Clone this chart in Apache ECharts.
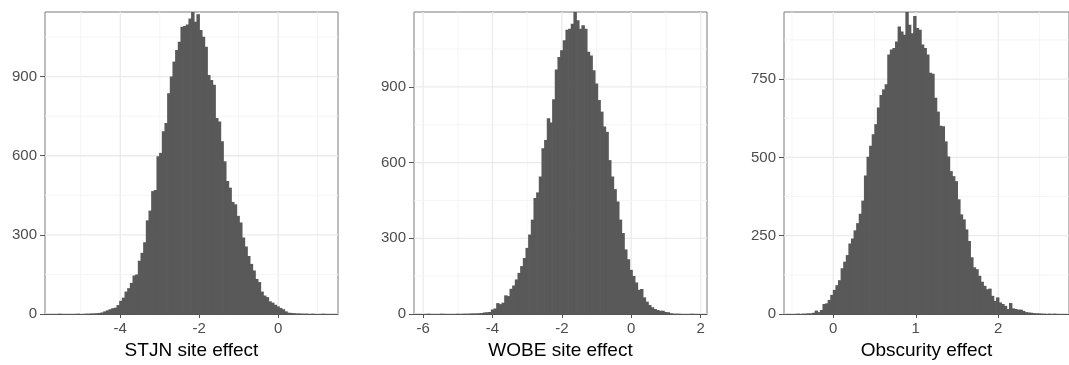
<!DOCTYPE html>
<html>
<head>
<meta charset="utf-8">
<title>Posterior site effects</title>
<script src="https://cdn.jsdelivr.net/npm/echarts@6/dist/echarts.min.js"></script>
<style>
  html, body { margin: 0; padding: 0; background: #fff; }
  #chart { width: 1069px; height: 365px; }
</style>
</head>
<body>
<div id="chart"></div>
<script>
// histogram counts, 100 bins per panel
const stjnBinStart = -5.57;
const stjnBinWidth = 0.0675;
const stjnCounts = [
  1, 0, 0, 0, 0, 0, 0, 1, 0, 0,
  1, 1, 2, 2, 3, 4, 6, 10, 14, 18,
  22, 24, 34, 50, 62, 85, 98, 118, 146, 150,
  202, 232, 272, 355, 392, 466, 470, 598, 611, 693,
  724, 837, 900, 957, 1001, 1032, 1089, 1092, 1098, 1120,
  1145, 1108, 1136, 1077, 1051, 1013, 906, 887, 869, 743,
  730, 655, 579, 504, 479, 425, 416, 372, 347, 290,
  256, 220, 190, 165, 133, 121, 85, 70, 64, 48,
  43, 35, 29, 23, 18, 10, 5, 4, 3, 2,
  2, 1, 1, 1, 0, 1, 0, 0, 0, 1
];
const stjnXTicks = [-4, -2, 0];
const stjnXMinor = [-5, -3, -1, 1];
const stjnYTicks = [0, 300, 600, 900];
const stjnYMinor = [150, 450, 750, 1050];

const wobeBinStart = -5.88;
const wobeBinWidth = 0.0768;
const wobeCounts = [
  1, 0, 0, 0, 0, 1, 0, 0, 0, 0,
  0, 1, 0, 1, 1, 1, 2, 2, 2, 3,
  4, 6, 7, 8, 18, 22, 43, 39, 45, 74,
  71, 100, 113, 137, 163, 190, 222, 262, 315, 374,
  460, 482, 545, 657, 690, 776, 759, 851, 969, 1019,
  1045, 1085, 1127, 1131, 1150, 1197, 1164, 1131, 1144, 1131,
  1039, 1025, 966, 914, 848, 802, 743, 722, 610, 545,
  495, 446, 374, 321, 256, 217, 175, 151, 125, 96,
  99, 66, 49, 36, 27, 20, 16, 13, 13, 8,
  7, 3, 1, 1, 1, 0, 0, 0, 0, 1
];
const wobeXTicks = [-6, -4, -2, 0, 2];
const wobeXMinor = [-5, -3, -1, 1];
const wobeYTicks = [0, 300, 600, 900];
const wobeYMinor = [150, 450, 750, 1050];

const obscBinStart = -0.44;
const obscBinWidth = 0.0314;
const obscCounts = [
  1, 0, 1, 1, 2, 2, 4, 11, 6, 13,
  32, 34, 45, 61, 77, 92, 108, 146, 167, 188,
  225, 241, 267, 290, 320, 362, 442, 502, 537, 574,
  606, 659, 699, 717, 733, 828, 844, 849, 870, 918,
  902, 891, 964, 923, 896, 951, 913, 907, 860, 849,
  828, 770, 767, 690, 646, 601, 599, 551, 503, 456,
  440, 424, 366, 318, 302, 270, 233, 181, 149, 143,
  122, 103, 90, 79, 81, 58, 42, 53, 37, 32,
  26, 16, 35, 18, 16, 14, 14, 10, 6, 5,
  4, 3, 2, 2, 1, 1, 0, 1, 0, 1
];
const obscXTicks = [0, 1, 2];
const obscXMinor = [-0.5, 0.5, 1.5, 2.5];
const obscYTicks = [0, 250, 500, 750];
const obscYMinor = [125, 375, 625, 875];

const panels = [
  { title: 'STJN site effect', start: stjnBinStart, width: stjnBinWidth, counts: stjnCounts,
    xTicks: stjnXTicks, xMinor: stjnXMinor, yTicks: stjnYTicks, yMinor: stjnYMinor, left: 45 },
  { title: 'WOBE site effect', start: wobeBinStart, width: wobeBinWidth, counts: wobeCounts,
    xTicks: wobeXTicks, xMinor: wobeXMinor, yTicks: wobeYTicks, yMinor: wobeYMinor, left: 414 },
  { title: 'Obscurity effect', start: obscBinStart, width: obscBinWidth, counts: obscCounts,
    xTicks: obscXTicks, xMinor: obscXMinor, yTicks: obscYTicks, yMinor: obscYMinor, left: 784 }
];

const FONT = "'Liberation Sans', Arial, sans-serif";
const BAR_COLOR = '#595959';

const chart = echarts.init(document.getElementById('chart'), null, { renderer: 'canvas' });

const grids = [];
const xAxes = [];
const yAxes = [];
const series = [];

panels.forEach((p, idx) => {
  const end = p.start + p.counts.length * p.width;
  const pad = (end - p.start) * 0.05; // ggplot default expansion
  const xMin = p.start - pad;
  const xMax = end + pad;
  const yMax = Math.max(...p.counts);

  grids.push({
    left: p.left, top: 12, width: 293, height: 303.5,
    show: true, borderColor: '#7a7a7a', borderWidth: 1, backgroundColor: 'transparent'
  });

  xAxes.push({
    gridIndex: idx, type: 'value', min: xMin, max: xMax, z: 10,
    name: p.title, nameLocation: 'middle', nameGap: 27,
    nameTextStyle: { fontFamily: FONT, fontSize: 19, color: '#000' },
    axisLine: { show: true, onZero: false, lineStyle: { color: '#555', width: 1 } },
    axisTick: { show: true, customValues: p.xTicks, length: 4, lineStyle: { color: '#555' } },
    axisLabel: { customValues: p.xTicks, margin: 7, fontFamily: FONT, fontSize: 15, color: '#4d4d4d' },
    splitLine: { show: false }
  });

  yAxes.push({
    gridIndex: idx, type: 'value', min: 0, max: yMax, z: 10,
    axisLine: { show: false, onZero: false },
    axisTick: { show: true, customValues: p.yTicks, length: 5, lineStyle: { color: '#555' } },
    axisLabel: { customValues: p.yTicks, margin: 8, fontFamily: FONT, fontSize: 15, color: '#4d4d4d' },
    splitLine: { show: false }
  });

  // grid lines, drawn through the axes' scales
  const lines = [];
  p.xMinor.forEach((v) => lines.push([v, 0, 0, 0]));
  p.xTicks.forEach((v) => lines.push([v, 0, 0, 1]));
  p.yMinor.forEach((v) => lines.push([xMin, v, 1, 0]));
  p.yTicks.forEach((v) => lines.push([xMin, v, 1, 1]));

  series.push({
    type: 'custom', xAxisIndex: idx, yAxisIndex: idx, z: 1, silent: true,
    data: lines,
    renderItem: (params, api) => {
      const cs = params.coordSys;
      const pt = api.coord([api.value(0), api.value(1)]);
      const vertical = api.value(2) === 0;
      const major = api.value(3) === 1;
      const shape = vertical
        ? { x1: pt[0], y1: cs.y, x2: pt[0], y2: cs.y + cs.height }
        : { x1: cs.x, y1: pt[1], x2: cs.x + cs.width, y2: pt[1] };
      return {
        type: 'line', shape,
        style: { stroke: major ? '#ebebeb' : '#f4f4f4', lineWidth: major ? 1.3 : 0.9 }
      };
    }
  });

  const bins = p.counts.map((n, i) => [p.start + i * p.width, p.start + (i + 1) * p.width, n]);
  series.push({
    type: 'custom', xAxisIndex: idx, yAxisIndex: idx, z: 2, silent: true,
    encode: { x: [0, 1], y: 2 },
    data: bins,
    renderItem: (params, api) => {
      const n = api.value(2);
      if (!n) return null;
      const a = api.coord([api.value(0), n]);
      const b = api.coord([api.value(1), 0]);
      // overlap neighbours slightly so no anti-aliased seams show between bins
      return {
        type: 'rect',
        shape: { x: a[0] - 0.4, y: a[1], width: b[0] - a[0] + 0.8, height: b[1] - a[1] },
        style: { fill: BAR_COLOR }
      };
    }
  });
});

chart.setOption({
  animation: false,
  backgroundColor: '#fff',
  textStyle: { fontFamily: FONT },
  grid: grids,
  xAxis: xAxes,
  yAxis: yAxes,
  series
});
</script>
</body>
</html>
